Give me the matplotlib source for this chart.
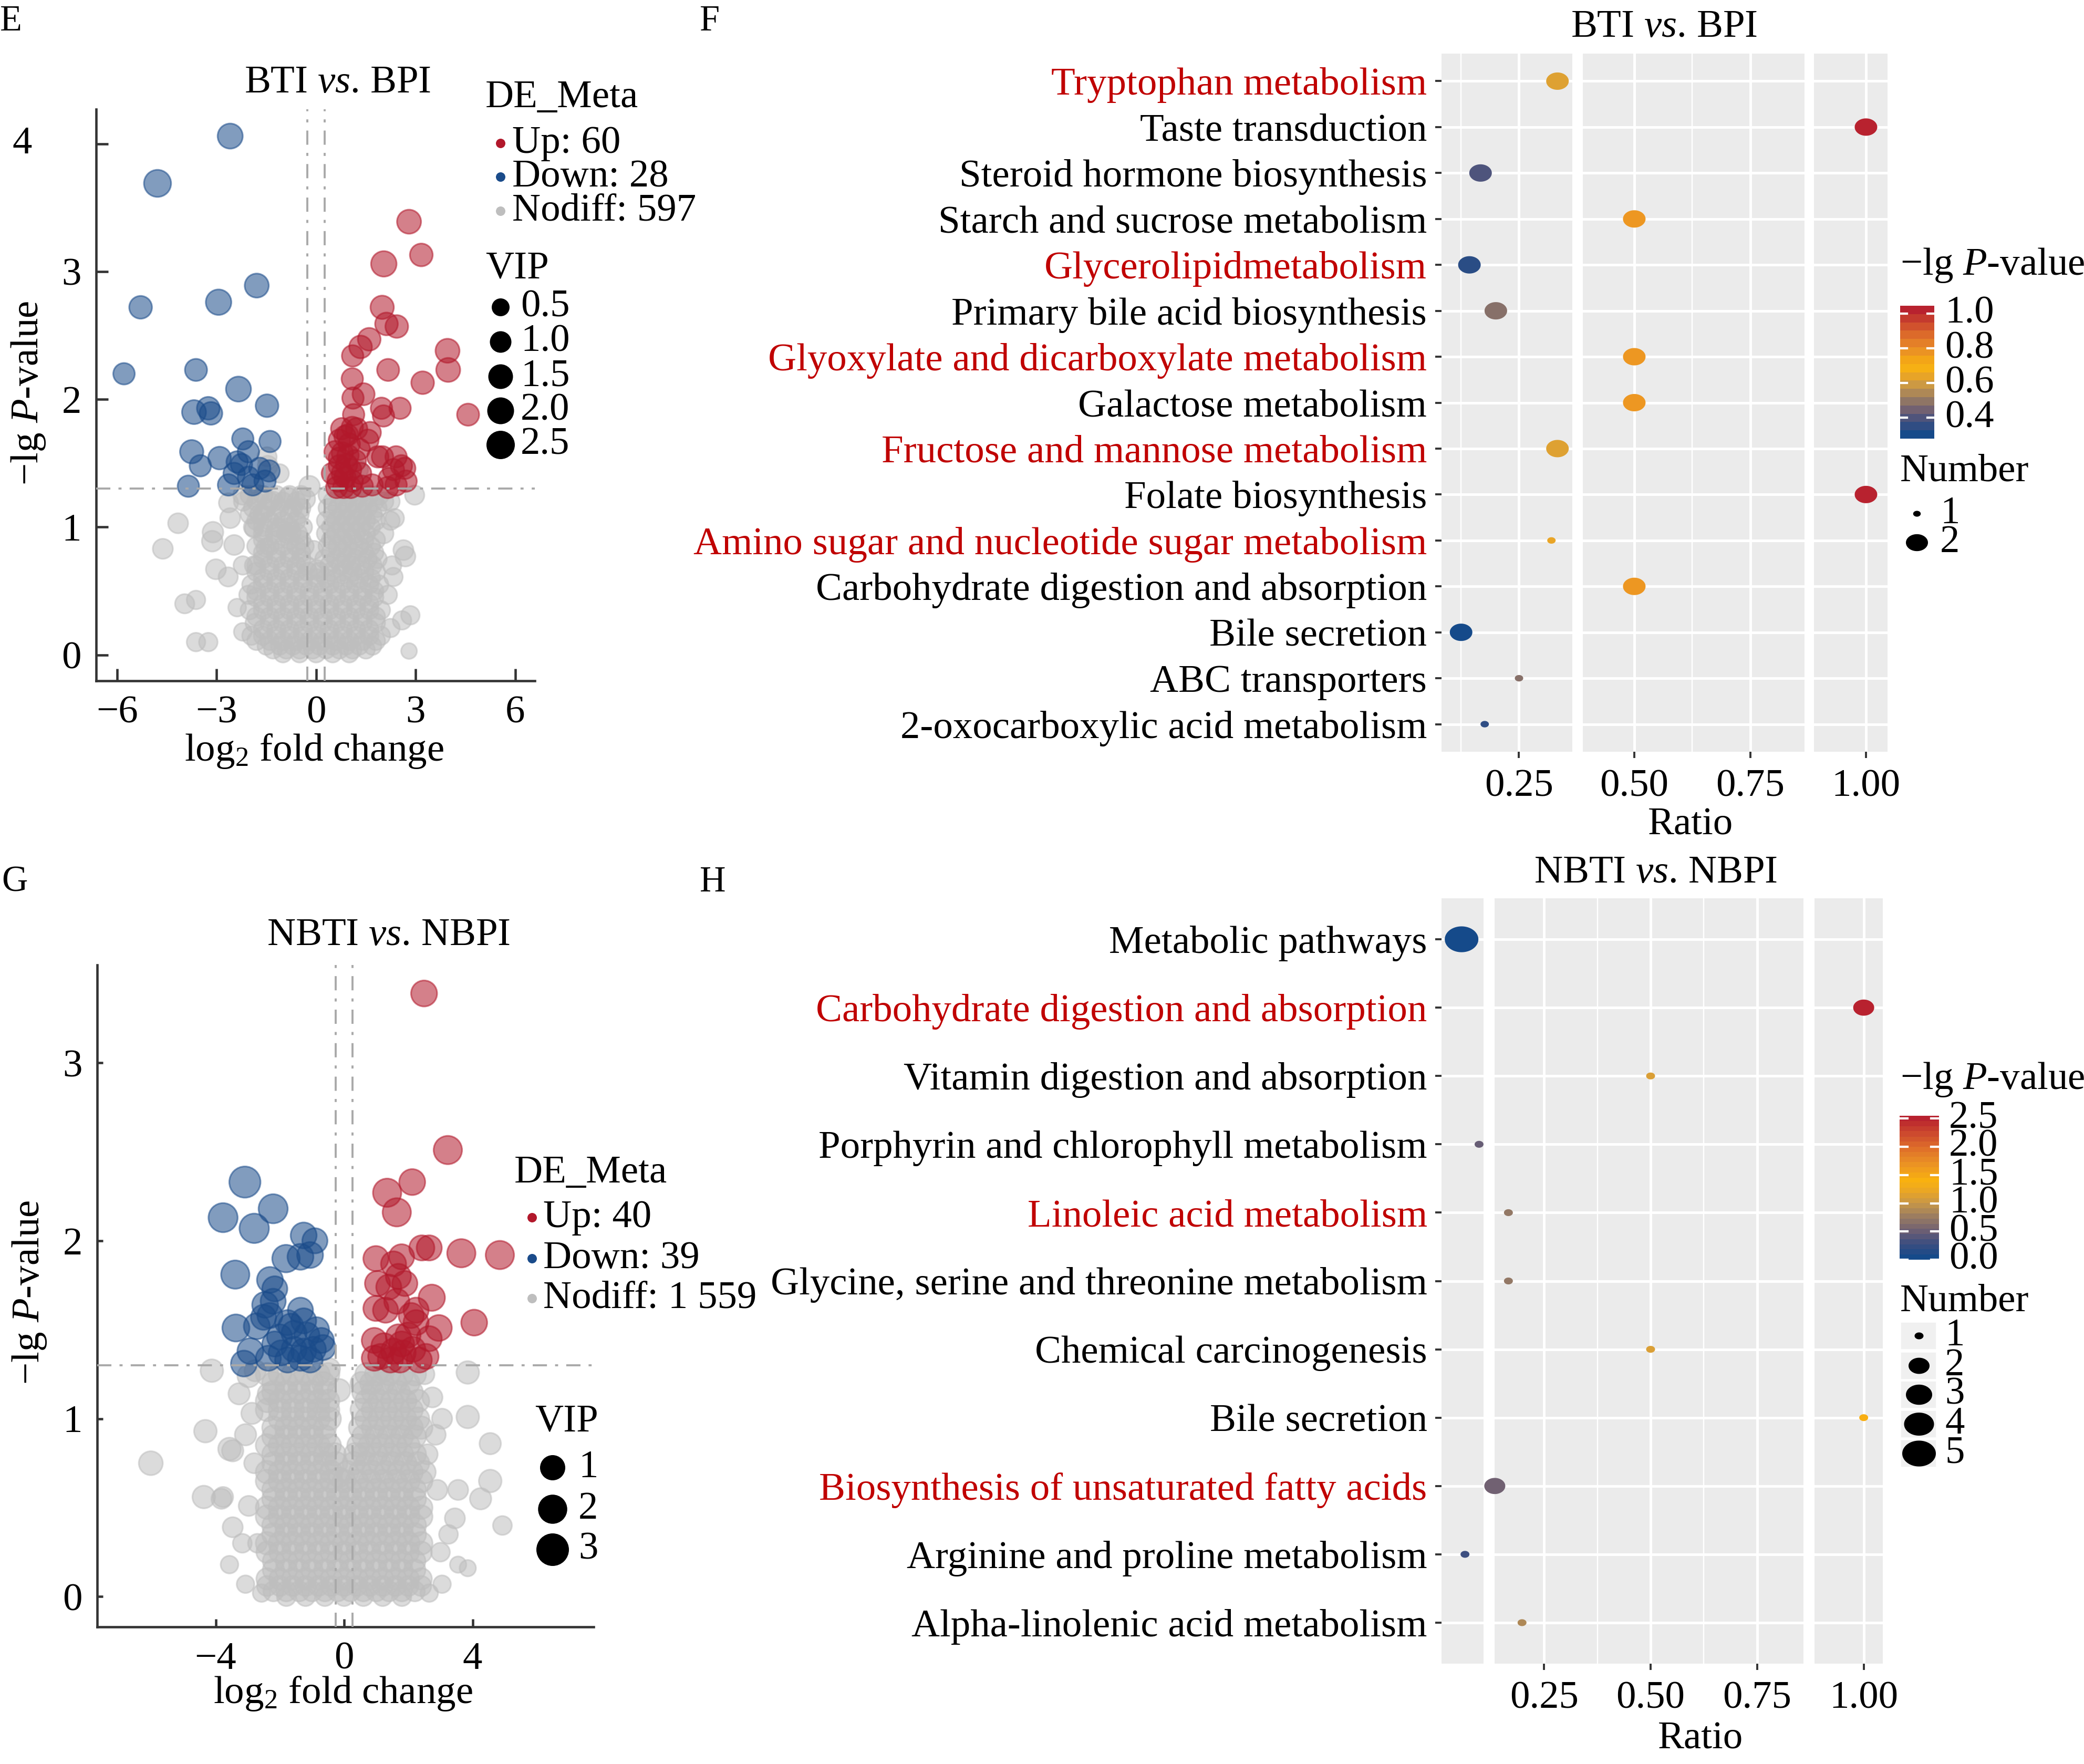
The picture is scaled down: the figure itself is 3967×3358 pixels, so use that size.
import numpy as np
import matplotlib
matplotlib.use("Agg")
import matplotlib.pyplot as plt
from matplotlib.path import Path
from matplotlib.patches import Rectangle
from matplotlib.colors import LinearSegmentedColormap

plt.rcParams["font.family"] = ["Liberation Serif", "DejaVu Serif"]
plt.rcParams["mathtext.fontset"] = "custom"
plt.rcParams["mathtext.rm"] = "Liberation Serif"
plt.rcParams["mathtext.it"] = "Liberation Serif:italic"

W, H = 3967, 3358
DPI = 253
PT = DPI / 72.0
FS = 21.3

RED = "#B2182B"
BLUE = "#1A4B8A"
GRAY = "#BEBEBE"
LABEL_RED = "#C00000"

# ---------------- panel E: BTI vs. BPI volcano (x=log2FC, y=-lgP, vip) ----------------
e_down = [(-2.59, 4.06, 1.6), (-4.78, 3.69, 2.1), (-5.29, 2.72, 1.2), (-2.94, 2.76, 1.7),
          (-1.79, 2.89, 1.4), (-5.79, 2.20, 1.0), (-3.62, 2.23, 1.1), (-2.34, 2.08, 1.6),
          (-3.68, 1.90, 1.4), (-3.25, 1.93, 1.2), (-3.17, 1.89, 1.2), (-1.48, 1.95, 1.2),
          (-3.75, 1.59, 1.3), (-2.91, 1.54, 1.2), (-2.21, 1.69, 1.0), (-2.04, 1.59, 1.0),
          (-1.39, 1.67, 1.0), (-3.49, 1.48, 1.0), (-3.85, 1.32, 1.0), (-2.64, 1.33, 1.0),
          (-2.47, 1.42, 1.0), (-2.25, 1.49, 1.0), (-2.04, 1.39, 1.0), (-1.70, 1.46, 1.0),
          (-1.54, 1.36, 1.0), (-1.42, 1.44, 1.0), (-1.91, 1.33, 1.0), (-2.38, 1.51, 1.0)]
e_up = [(2.80, 3.39, 1.4), (3.17, 3.13, 1.2), (2.04, 3.06, 1.7), (1.99, 2.72, 1.3), (2.12, 2.59, 1.2),
        (2.43, 2.57, 1.2), (1.60, 2.47, 1.2), (1.34, 2.41, 1.2), (1.10, 2.34, 1.0), (3.96, 2.38, 1.4),
        (3.98, 2.23, 1.4), (2.17, 2.23, 1.1), (3.21, 2.13, 1.2), (1.09, 2.16, 1.0), (1.43, 2.04, 1.1),
        (1.11, 2.01, 1.0), (1.97, 1.93, 1.0), (2.53, 1.93, 1.0), (4.58, 1.88, 1.1), (1.13, 1.88, 1.0),
        (2.03, 1.87, 1.0), (1.09, 1.78, 1.0), (0.77, 1.77, 1.0), (0.87, 1.71, 1.0), (1.63, 1.74, 1.0),
        (0.79, 1.58, 1.0), (0.70, 1.54, 1.0), (1.00, 1.65, 1.0), (1.30, 1.61, 1.0), (2.00, 1.55, 1.0),
        (2.41, 1.55, 1.0), (2.57, 1.48, 1.0), (1.86, 1.55, 1.0), (0.49, 1.42, 1.0), (0.66, 1.36, 1.0),
        (0.87, 1.39, 1.0), (1.09, 1.36, 1.0), (0.70, 1.48, 1.0), (0.92, 1.49, 1.0), (1.69, 1.33, 1.0),
        (2.20, 1.38, 1.0), (2.41, 1.33, 1.0), (2.33, 1.45, 1.0), (0.57, 1.59, 1.0), (0.83, 1.31, 1.0),
        (1.04, 1.45, 1.0), (1.34, 1.42, 1.0), (0.79, 1.42, 1.0), (0.96, 1.56, 1.0), (0.70, 1.68, 1.0),
        (1.22, 1.77, 1.0), (1.18, 1.52, 1.0), (0.62, 1.31, 1.0), (1.04, 1.31, 1.0), (1.39, 1.32, 1.0),
        (2.16, 1.31, 1.0), (2.71, 1.36, 1.0), (2.67, 1.46, 1.0), (1.56, 1.68, 1.0), (0.95, 1.72, 1.0)]
e_gray_outer = [(-4.16, 1.03, 0.8), (-4.62, 0.83, 0.8), (-3.11, 0.96, 0.9), (-3.13, 0.89, 0.9),
                (-2.59, 1.07, 0.8), (-2.47, 0.86, 0.8), (-3.02, 0.67, 0.8), (-2.65, 0.61, 0.7),
                (-3.96, 0.40, 0.7), (-3.62, 0.43, 0.6), (-3.62, 0.10, 0.6), (-3.25, 0.10, 0.6),
                (2.80, 0.03, 0.3), (2.63, 0.82, 0.8), (2.69, 0.77, 0.8), (2.03, 0.95, 0.8),
                (2.84, 0.31, 0.6), (2.97, 1.25, 0.7), (2.37, 1.07, 0.6), (2.24, 1.20, 0.6),
                (-1.10, 1.42, 0.6), (-1.48, 1.55, 0.7), (-1.46, 1.48, 0.8), (1.30, 1.45, 0.5),
                (-0.20, 1.32, 0.9), (-0.33, 1.22, 0.8), (-0.84, 1.23, 0.8), (-1.31, 1.20, 0.8),
                (-1.74, 1.25, 0.8), (-2.21, 1.25, 0.7), (-2.64, 1.19, 0.7), (-1.70, 1.10, 0.7),
                (-1.87, 0.99, 0.6), (1.90, 1.25, 0.7), (2.24, 1.05, 0.6), (2.29, 0.70, 0.6),
                (2.33, 0.61, 0.6), (2.16, 0.47, 0.6), (2.24, 0.21, 0.6), (2.59, 0.27, 0.6),
                (-2.21, 0.18, 0.5), (-2.38, 0.37, 0.5), (-2.04, 0.47, 0.6), (-1.87, 0.70, 0.6),
                (-2.21, 0.70, 0.6), (-1.52, 0.84, 0.6), (-1.10, 0.99, 0.7), (-0.75, 0.96, 0.7),
                (-0.07, 0.82, 0.6), (0.02, 0.67, 0.6)]
# dense part of the grey cloud, read row by row: (y, vip, x values)
e_gray_core = [(1.25, 0.6, [-2.0, -1.6, -1.2, -0.8, -0.45, 0.35, 0.7, 1.0, 1.3, 1.6]),
               (1.20, 0.6, [-2.2, -1.8, -1.4, -1.0, -0.6, 0.5, 0.85, 1.15, 1.45, 1.75, 2.05]),
               (1.15, 0.6, [-1.9, -1.5, -1.1, -0.7, -0.45, 0.35, 0.65, 0.95, 1.25, 1.55, 1.85]),
               (1.10, 0.6, [-2.0, -1.6, -1.2, -0.8, -0.5, 0.5, 0.8, 1.1, 1.4, 1.7]),
               (1.05, 0.6, [-1.8, -1.4, -1.0, -0.6, 0.3, 0.6, 0.9, 1.2, 1.5, 1.8]),
               (1.00, 0.6, [-1.9, -1.6, -1.2, -0.8, -0.4, 0.45, 0.75, 1.05, 1.35, 1.65]),
               (0.95, 0.6, [-1.6, -1.25, -0.9, -0.55, 0.3, 0.6, 0.9, 1.2, 1.5]),
               (0.90, 0.6, [-1.6, -1.2, -0.8, -0.45, 0.45, 0.8, 1.1, 1.45, 1.8]),
               (0.85, 0.6, [-1.8, -1.4, -1.0, -0.6, -0.35, 0.35, 0.65, 0.95, 1.3, 1.65]),
               (0.80, 0.6, [-1.6, -1.2, -0.8, -0.45, 0.45, 0.8, 1.1, 1.45, 1.75]),
               (0.75, 0.6, [-1.6, -1.2, -0.8, -0.45, 0.25, 0.6, 0.9, 1.2, 1.55, 1.85]),
               (0.70, 0.6, [-1.8, -1.4, -1.0, -0.6, -0.3, 0.4, 0.75, 1.05, 1.35, 1.7]),
               (0.65, 0.6, [-1.8, -1.4, -1.0, -0.6, -0.25, 0.1, 0.45, 0.8, 1.1, 1.45, 1.8]),
               (0.60, 0.6, [-1.6, -1.2, -0.8, -0.4, 0.0, 0.3, 0.6, 1.0, 1.3, 1.65]),
               (0.55, 0.6, [-1.95, -1.6, -1.2, -0.8, -0.4, 0.0, 0.4, 0.8, 1.2, 1.6, 1.9]),
               (0.50, 0.6, [-1.8, -1.4, -1.0, -0.6, -0.2, 0.2, 0.6, 1.0, 1.4, 1.75]),
               (0.45, 0.6, [-1.8, -1.4, -1.0, -0.6, -0.2, 0.2, 0.6, 1.0, 1.4, 1.75]),
               (0.40, 0.6, [-1.6, -1.2, -0.8, -0.4, 0.0, 0.4, 0.8, 1.2, 1.6]),
               (0.35, 0.6, [-2.0, -1.6, -1.2, -0.8, -0.4, 0.0, 0.4, 0.8, 1.2, 1.6, 1.95]),
               (0.30, 0.6, [-1.8, -1.4, -1.0, -0.6, -0.2, 0.2, 0.6, 1.0, 1.4, 1.8]),
               (0.25, 0.6, [-1.85, -1.4, -1.0, -0.6, -0.2, 0.2, 0.6, 1.0, 1.4, 1.8]),
               (0.20, 0.6, [-1.6, -1.2, -0.8, -0.4, 0.0, 0.4, 0.8, 1.2, 1.6]),
               (0.15, 0.6, [-1.95, -1.6, -1.2, -0.8, -0.4, 0.0, 0.4, 0.8, 1.2, 1.6, 1.95]),
               (0.11, 0.6, [-1.8, -1.4, -1.0, -0.6, -0.2, 0.2, 0.6, 1.0, 1.4, 1.8]),
               (0.07, 0.5, [-1.5, -1.1, -0.7, -0.3, 0.1, 0.5, 0.9, 1.3, 1.7]),
               (0.04, 0.5, [-1.3, -0.9, -0.5, -0.1, 0.3, 0.7, 1.1, 1.5]),
               (0.01, 0.5, [-1.0, -0.5, 0.0, 0.5, 1.0])]
e_vip_keys = [0.5, 1.0, 1.5, 2.0, 2.5]

# ---------------- panel G: NBTI vs. NBPI volcano ----------------
g_down = [(-3.09, 2.33, 2.6), (-3.77, 2.13, 2.0), (-2.21, 2.18, 2.0), (-2.80, 2.07, 2.1),
          (-1.26, 2.03, 1.2), (-0.91, 2.00, 1.0), (-1.81, 1.90, 1.6), (-1.36, 1.91, 1.2),
          (-1.06, 1.92, 1.2), (-3.39, 1.81, 1.8), (-2.31, 1.78, 1.2), (-2.16, 1.73, 1.0),
          (-2.46, 1.64, 1.2), (-2.21, 1.66, 1.0), (-3.37, 1.51, 1.5), (-2.72, 1.52, 1.2),
          (-2.51, 1.57, 1.0), (-1.36, 1.61, 1.0), (-1.26, 1.55, 1.0), (-1.66, 1.52, 1.0),
          (-0.86, 1.50, 1.0), (-0.71, 1.44, 1.0), (-2.92, 1.38, 1.2), (-2.16, 1.42, 1.0),
          (-1.96, 1.37, 1.0), (-1.56, 1.39, 1.0), (-1.26, 1.38, 1.0), (-0.96, 1.39, 1.0),
          (-0.66, 1.40, 1.0), (-3.12, 1.31, 1.2), (-2.36, 1.34, 1.0), (-1.76, 1.33, 1.0),
          (-1.36, 1.34, 1.0), (-1.06, 1.33, 1.0), (-1.76, 1.54, 1.0), (-1.56, 1.48, 1.0),
          (-2.31, 1.58, 1.0), (-1.16, 1.47, 1.0), (-2.01, 1.46, 1.0)]
g_up = [(2.49, 3.39, 1.2), (3.23, 2.51, 1.8), (2.12, 2.33, 1.2), (1.34, 2.27, 1.8), (1.64, 2.16, 1.8),
        (2.42, 1.96, 1.0), (2.65, 1.96, 1.0), (3.65, 1.93, 1.8), (4.85, 1.92, 1.8), (0.99, 1.90, 1.0),
        (1.79, 1.91, 1.0), (1.54, 1.87, 1.0), (1.04, 1.76, 1.0), (1.69, 1.80, 1.0), (1.89, 1.76, 1.0),
        (1.39, 1.74, 1.0), (0.99, 1.62, 1.0), (1.29, 1.61, 1.0), (2.09, 1.58, 1.0), (1.64, 1.66, 1.0),
        (2.73, 1.68, 1.3), (4.05, 1.54, 1.2), (2.95, 1.51, 1.2), (2.65, 1.45, 1.0), (0.94, 1.44, 1.0),
        (1.24, 1.41, 1.0), (1.79, 1.42, 1.0), (1.54, 1.38, 1.0), (1.84, 1.37, 1.0), (1.14, 1.35, 1.0),
        (0.94, 1.34, 1.0), (2.14, 1.39, 1.0), (2.55, 1.35, 1.0), (1.44, 1.33, 1.0), (1.74, 1.33, 1.0),
        (2.34, 1.33, 1.0), (2.24, 1.54, 1.0), (2.24, 1.61, 1.0), (1.69, 1.46, 1.0), (1.99, 1.47, 1.0)]
g_gray_outer = [(-6.02, 0.75, 0.9), (-4.32, 0.93, 0.8), (-4.12, 1.27, 0.8), (-3.57, 0.83, 0.8),
                (-3.47, 0.82, 0.7), (-4.37, 0.56, 0.8), (-3.82, 0.55, 0.6), (-3.77, 0.56, 0.6),
                (-3.47, 0.39, 0.6), (-2.97, 0.51, 0.6), (-3.27, 1.14, 0.7), (-2.97, 1.24, 0.8),
                (-2.77, 1.27, 0.7), (-2.36, 1.14, 0.7), (-2.87, 1.03, 0.7), (-3.07, 0.91, 0.7),
                (3.85, 1.26, 0.8), (3.85, 1.01, 0.8), (4.55, 0.86, 0.7), (4.55, 0.65, 0.8),
                (4.25, 0.55, 0.7), (4.93, 0.40, 0.5), (3.55, 0.60, 0.6), (3.45, 0.44, 0.6),
                (3.25, 0.35, 0.5), (3.85, 0.16, 0.3), (3.55, 0.18, 0.3), (3.05, 1.00, 0.6),
                (2.85, 0.91, 0.6), (2.75, 1.12, 0.6), (-0.16, 1.16, 0.8), (-0.16, 0.67, 0.6),
                (-0.46, 1.28, 0.7), (1.24, 1.27, 0.7), (-3.17, 0.30, 0.5), (-3.07, 0.07, 0.4),
                (-2.57, 0.02, 0.4), (3.05, 0.07, 0.4), (2.65, 0.02, 0.4), (-3.57, 0.18, 0.4),
                (2.90, 0.60, 0.6), (3.00, 0.25, 0.5), (-2.70, 0.30, 0.5), (-2.80, 0.75, 0.6),
                (2.60, 0.80, 0.6), (2.50, 1.25, 0.6)]
g_gray_core = [(1.25, 0.8, [-2.4, -2.0, -1.6, -1.2, -0.8, -0.5, 0.7, 1.0, 1.4, 1.8, 2.2]),
               (1.20, 0.8, [-2.2, -1.8, -1.4, -1.0, -0.65, 0.55, 0.85, 1.2, 1.6, 2.0]),
               (1.15, 0.8, [-2.2, -1.8, -1.4, -1.0, -0.6, 0.6, 0.9, 1.3, 1.7, 2.1]),
               (1.10, 0.8, [-2.4, -2.0, -1.6, -1.2, -0.8, -0.5, 0.7, 1.1, 1.5, 1.9, 2.3]),
               (1.05, 0.8, [-2.4, -2.0, -1.6, -1.2, -0.8, -0.5, 0.55, 0.9, 1.3, 1.7, 2.1]),
               (1.00, 0.8, [-2.0, -1.6, -1.2, -0.8, -0.45, 0.7, 1.1, 1.5, 1.9, 2.3]),
               (0.95, 0.8, [-2.2, -1.8, -1.4, -1.0, -0.6, 0.5, 0.9, 1.3, 1.7, 2.1, 2.4]),
               (0.90, 0.8, [-2.2, -1.8, -1.4, -1.0, -0.6, 0.6, 1.0, 1.4, 1.8, 2.2]),
               (0.85, 0.8, [-2.4, -2.0, -1.6, -1.2, -0.8, -0.45, 0.45, 0.8, 1.2, 1.6, 2.0]),
               (0.80, 0.8, [-2.2, -1.8, -1.4, -1.0, -0.6, -0.3, 0.35, 0.6, 1.0, 1.4, 1.8, 2.2]),
               (0.75, 0.8, [-2.2, -1.8, -1.4, -1.0, -0.6, -0.25, 0.3, 0.7, 1.1, 1.5, 1.9, 2.3]),
               (0.70, 0.8, [-2.4, -2.0, -1.6, -1.2, -0.8, -0.4, 0.1, 0.5, 0.9, 1.3, 1.7, 2.1, 2.5]),
               (0.65, 0.8, [-2.4, -2.0, -1.6, -1.2, -0.8, -0.4, 0.0, 0.4, 0.8, 1.2, 1.6, 2.0, 2.4]),
               (0.60, 0.8, [-2.2, -1.8, -1.4, -1.0, -0.6, -0.2, 0.2, 0.6, 1.0, 1.4, 1.8, 2.2]),
               (0.55, 0.8, [-2.2, -1.8, -1.4, -1.0, -0.6, -0.2, 0.2, 0.6, 1.0, 1.4, 1.8, 2.2]),
               (0.50, 0.8, [-2.4, -2.0, -1.6, -1.2, -0.8, -0.4, 0.0, 0.4, 0.8, 1.2, 1.6, 2.0, 2.4]),
               (0.45, 0.8, [-2.4, -2.0, -1.6, -1.2, -0.8, -0.4, 0.0, 0.4, 0.8, 1.2, 1.6, 2.0, 2.4]),
               (0.40, 0.8, [-2.2, -1.8, -1.4, -1.0, -0.6, -0.2, 0.2, 0.6, 1.0, 1.4, 1.8, 2.2]),
               (0.35, 0.8, [-2.2, -1.8, -1.4, -1.0, -0.6, -0.2, 0.2, 0.6, 1.0, 1.4, 1.8, 2.2]),
               (0.30, 0.8, [-2.4, -2.0, -1.6, -1.2, -0.8, -0.4, 0.0, 0.4, 0.8, 1.2, 1.6, 2.0, 2.4]),
               (0.25, 0.7, [-2.4, -2.0, -1.6, -1.2, -0.8, -0.4, 0.0, 0.4, 0.8, 1.2, 1.6, 2.0, 2.4]),
               (0.20, 0.7, [-2.2, -1.8, -1.4, -1.0, -0.6, -0.2, 0.2, 0.6, 1.0, 1.4, 1.8, 2.2]),
               (0.15, 0.7, [-2.2, -1.8, -1.4, -1.0, -0.6, -0.2, 0.2, 0.6, 1.0, 1.4, 1.8, 2.2]),
               (0.10, 0.7, [-2.4, -2.0, -1.6, -1.2, -0.8, -0.4, 0.0, 0.4, 0.8, 1.2, 1.6, 2.0, 2.4]),
               (0.06, 0.6, [-2.4, -2.0, -1.6, -1.2, -0.8, -0.4, 0.0, 0.4, 0.8, 1.2, 1.6, 2.0, 2.4]),
               (0.03, 0.6, [-2.2, -1.8, -1.4, -1.0, -0.6, -0.2, 0.2, 0.6, 1.0, 1.4, 1.8, 2.2]),
               (0.00, 0.5, [-1.8, -1.2, -0.6, 0.0, 0.6, 1.2, 1.8])]
g_vip_keys = [1, 2, 3]

# ---------------- panel F: KEGG dot plot, BTI vs. BPI ----------------
f_paths = ["Tryptophan metabolism", "Taste transduction", "Steroid hormone biosynthesis",
           "Starch and sucrose metabolism", "Glycerolipidmetabolism", "Primary bile acid biosynthesis",
           "Glyoxylate and dicarboxylate metabolism", "Galactose metabolism",
           "Fructose and mannose metabolism", "Folate biosynthesis",
           "Amino sugar and nucleotide sugar metabolism", "Carbohydrate digestion and absorption",
           "Bile secretion", "ABC transporters", "2-oxocarboxylic acid metabolism"]
f_highlight = [True, False, False, False, True, False, True, False, True, False, True, False, False, False, False]
f_ratio = [0.333, 1.0, 0.167, 0.5, 0.143, 0.2, 0.5, 0.5, 0.333, 1.0, 0.32, 0.5, 0.125, 0.25, 0.176]
f_number = [2, 2, 2, 2, 2, 2, 2, 2, 2, 2, 1, 2, 2, 1, 1]
f_lgp = [0.62, 1.046, 0.38, 0.78, 0.32, 0.47, 0.78, 0.78, 0.62, 1.046, 0.64, 0.78, 0.28, 0.47, 0.33]

# ---------------- panel H: KEGG dot plot, NBTI vs. NBPI ----------------
h_paths = ["Metabolic pathways", "Carbohydrate digestion and absorption", "Vitamin digestion and absorption",
           "Porphyrin and chlorophyll metabolism", "Linoleic acid metabolism",
           "Glycine, serine and threonine metabolism", "Chemical carcinogenesis", "Bile secretion",
           "Biosynthesis of unsaturated fatty acids", "Arginine and proline metabolism",
           "Alpha-linolenic acid metabolism"]
h_highlight = [False, True, False, False, True, False, False, False, True, False, False]
h_ratio = [0.058, 1.0, 0.5, 0.099, 0.166, 0.166, 0.5, 1.0, 0.134, 0.066, 0.198]
h_number = [5, 2, 1, 1, 1, 1, 1, 1, 2, 1, 1]
h_lgp = [0.0, 2.55, 1.1, 0.45, 0.7, 0.7, 1.1, 1.45, 0.5, 0.25, 0.85]

CMAP = LinearSegmentedColormap.from_list("lgp", [
    (0.00, "#154A8A"), (0.10, "#3E4F80"), (0.19, "#6E5F73"), (0.29, "#9A7C62"),
    (0.39, "#C99847"), (0.47, "#E9A527"), (0.55, "#FAB30F"), (0.68, "#EA9026"),
    (0.78, "#E0712A"), (0.88, "#CF4E2E"), (1.00, "#B8222F")])

fig = plt.figure(figsize=(W / DPI, H / DPI), dpi=DPI)


def rect(l, t, r, b):
    return [l / W, 1 - b / H, (r - l) / W, (b - t) / H]


def area(d_px):
    return (d_px / PT) ** 2


# overlay in pixel coordinates for free text and legends
ov = fig.add_axes([0, 0, 1, 1])
ov.set_xlim(0, W)
ov.set_ylim(H, 0)
ov.axis("off")
ov.set_zorder(10)


def txt(x, y, s, ha="left", va="center", size=FS, **kw):
    ov.text(x, y, s, ha=ha, va=va, fontsize=size, **kw)


def volcano(box, xlim, ylim, xticks, yticks, gray_outer, gray_core, down, up,
            vip_keys, vip_px, tick_len):
    ax = fig.add_axes(rect(*box))
    ax.patch.set_alpha(0)
    gray = list(gray_outer) + [(x, y, v) for (y, v, xs) in gray_core for x in xs]
    for pts, col in [(gray, GRAY), (down, BLUE), (up, RED)]:
        arr = np.array(pts)
        d = np.interp(arr[:, 2], vip_keys, vip_px)
        ax.scatter(arr[:, 0], arr[:, 1], s=area(d), color=col, alpha=0.55,
                   edgecolors=col, linewidths=0.9, zorder=2)
    ls = (0, (7, 4, 1.5, 4))
    for xv in (-0.263, 0.263):
        ax.axvline(xv, color="#A9A9A9", lw=1.1, ls=ls, zorder=3)
    ax.axhline(1.301, color="#A9A9A9", lw=1.1, ls=ls, zorder=3)
    ax.set_xlim(*xlim)
    ax.set_ylim(*ylim)
    ax.set_xticks(xticks)
    ax.set_yticks(yticks)
    for sp in ("top", "right"):
        ax.spines[sp].set_visible(False)
    for sp in ("left", "bottom"):
        ax.spines[sp].set_color("#333333")
        ax.spines[sp].set_linewidth(1.3)
    ax.tick_params(direction="in", length=tick_len, width=1.3, color="#333333",
                   labelsize=FS, pad=8)
    return ax


# ----- E -----
axE = volcano((183, 208, 1018, 1296), (-6.63, 6.59), (-0.203, 4.27), [-6, -3, 0, 3, 6], [0, 1, 2, 3, 4],
              e_gray_outer, e_gray_core, e_down, e_up,
              [0.0] + e_vip_keys, [24, 34, 41, 47, 51, 54], 6.5)
# the "4" label sits further left in the original
axE.set_yticklabels(["0", "1", "2", "3", ""])
txt(61, 274, "4", ha="right")

txt(0, 41, "E", size=19.5)
txt(643, 158, r"BTI $\mathit{vs}$. BPI", ha="center")
txt(598, 1430, r"log$_2$ fold change", ha="center")
txt(54, 748, "\u2212lg $\\mathit{P}$-value", ha="center", rotation=90)
txt(924, 186, "DE_Meta")
for yy, col, lab in [(273, RED, "Up: 60"), (337, BLUE, "Down: 28"), (402, GRAY, "Nodiff: 597")]:
    ov.scatter([953], [yy], s=area(18), color=col, edgecolors="none")
    txt(975, yy, lab)
txt(924, 512, "VIP")
for yy, v, d in zip([585, 651, 717, 782, 847], e_vip_keys, [34, 41, 47, 51, 54]):
    ov.scatter([953], [yy], s=area(d), color="black", edgecolors="none")
    txt(991, yy, f"{v:.1f}")

# ----- G -----
axG = volcano((185, 1837, 1130, 3097), (-7.69, 7.77), (-0.17, 3.55), [-4, 0, 4], [0, 1, 2, 3],
              g_gray_outer, g_gray_core, g_down, g_up,
              [0.0] + g_vip_keys, [24, 48, 55.5, 62], 3.1)
axG.tick_params(axis="x", length=4.3)
txt(28, 1680, "G", ha="center", size=19.5)
txt(740, 1781, r"NBTI $\mathit{vs}$. NBPI", ha="center")
txt(653, 3224, r"log$_2$ fold change", ha="center")
txt(56, 2460, "\u2212lg $\\mathit{P}$-value", ha="center", rotation=90)
txt(979, 2233, "DE_Meta")
for yy, col, lab in [(2318, RED, "Up: 40"), (2396, BLUE, "Down: 39"), (2472, GRAY, "Nodiff: 1 559")]:
    ov.scatter([1013], [yy], s=area(18), color=col, edgecolors="none")
    txt(1034, yy, lab)
txt(1018, 2707, "VIP")
for yy, v, d in zip([2794, 2873, 2950], g_vip_keys, [48, 55.5, 62]):
    ov.scatter([1052], [yy], s=area(d), color="black", edgecolors="none")
    txt(1101, yy, f"{v}")

# ellipse marker (the dot plots were stretched horizontally)
theta = np.linspace(0, 2 * np.pi, 73)
ELL = Path(np.column_stack([1.3 * np.cos(theta), np.sin(theta)]), closed=True)


def dotplot(panels, top, bottom, paths, highlight, ratio, number, lgp, vmin, vmax,
            num_keys, num_px, majors, minors):
    n = len(paths)
    ypos = np.arange(n, 0, -1)
    ratio = np.array(ratio)
    dpx = np.interp(number, num_keys, num_px)
    cols = CMAP((np.array(lgp) - vmin) / (vmax - vmin))
    axes = []
    for i, (l, r, lo, hi) in enumerate(panels):
        ax = fig.add_axes(rect(l, top, r, bottom))
        ax.set_facecolor("#EBEBEB")
        ax.set_xlim(lo, hi)
        ax.set_ylim(0.4, n + 0.6)
        for sp in ax.spines.values():
            sp.set_visible(False)
        for m in minors:
            if lo < m < hi:
                ax.axvline(m, color="white", lw=0.7, zorder=1)
        mj = [m for m in majors if lo < m < hi]
        for m in mj:
            ax.axvline(m, color="white", lw=1.4, zorder=1)
        for yv in ypos:
            ax.axhline(yv, color="white", lw=1.4, zorder=1)
        sel = (ratio >= lo) & (ratio <= hi)
        ax.scatter(ratio[sel], ypos[sel], s=area(dpx[sel]), c=cols[sel], marker=ELL,
                   edgecolors="none", zorder=3, clip_on=False)
        ax.set_xticks(mj)
        ax.set_xticklabels([f"{m:.2f}" for m in mj])
        ax.tick_params(axis="x", direction="out", length=3.4, width=1.1, color="#333333",
                       labelsize=FS, pad=6)
        if i == 0:
            ax.set_yticks(ypos)
            ax.set_yticklabels(paths)
            for lab, hl in zip(ax.get_yticklabels(), highlight):
                lab.set_color(LABEL_RED if hl else "black")
            ax.tick_params(axis="y", direction="out", length=3.4, width=1.1, color="#333333",
                           labelsize=FS, pad=4.5)
        else:
            ax.set_yticks([])
        axes.append(ax)
    return axes


def colorbar(box, vmin, vmax, ticks, nbands, label_x):
    l, t, r, b = box
    ax = fig.add_axes(rect(l, t, r, b))
    grad = np.linspace(vmin, vmax, 400).reshape(-1, 1)
    ax.imshow(grad, cmap=CMAP.resampled(nbands), vmin=vmin, vmax=vmax, origin="lower",
              extent=[0, 1, vmin, vmax], aspect="auto", interpolation="nearest")
    for tv in ticks:
        ax.plot([0, 0.2], [tv, tv], color="white", lw=1.2)
        ax.plot([0.8, 1], [tv, tv], color="white", lw=1.2)
    ax.set_xlim(0, 1)
    ax.set_ylim(vmin, vmax)
    ax.axis("off")
    for tv in ticks:
        yy = b - (tv - vmin) / (vmax - vmin) * (b - t)
        txt(label_x, yy, f"{tv:.1f}")


# ----- F -----
dotplot([(2744, 2992.5, 0.0828, 0.3645), (3012.7, 3435.3, 0.3887, 0.8676), (3453, 3593, 0.8879, 1.0465)],
        102, 1431, f_paths, f_highlight, f_ratio, f_number, f_lgp, 0.28, 1.046,
        [1, 2], [16, 43], [0.25, 0.5, 0.75, 1.0], [0.125, 0.375, 0.625, 0.875])
txt(1350, 41, "F", ha="center", size=19.5)
txt(3168, 52, r"BTI $\mathit{vs}$. BPI", ha="center")
txt(3218, 1571, "Ratio", ha="center")
txt(3617, 505, "\u2212lg $\\mathit{P}$-value")
colorbar((3617, 582, 3682, 835), 0.28, 1.046, [0.4, 0.6, 0.8, 1.0], 16, 3702)
txt(3617, 898, "Number")
for yy, nv, d in [(978, 1, 14.5), (1033, 2, 42)]:
    ov.scatter([3649], [yy], s=area(d), color="black", marker=ELL, edgecolors="none")
    txt(3693, yy, str(nv))

# ----- H -----
dotplot([(2744.4, 2823.6, 0.0115, 0.109), (2845.4, 3432.9, 0.134, 0.859), (3453.9, 3584, 0.884, 1.045)],
        1710, 3167, h_paths, h_highlight, h_ratio, h_number, h_lgp, 0.0, 2.55,
        [1, 2, 3, 4, 5], [17, 40, 50, 57, 64], [0.25, 0.5, 0.75, 1.0], [0.125, 0.375, 0.625, 0.875])
txt(1357, 1680, "H", ha="center", size=19.5)
txt(3152, 1662, r"NBTI $\mathit{vs}$. NBPI", ha="center")
txt(3237, 3311, "Ratio", ha="center")
txt(3617, 2055, "\u2212lg $\\mathit{P}$-value")
colorbar((3616, 2124, 3691, 2398), 0.0, 2.55, [0.0, 0.5, 1.0, 1.5, 2.0, 2.5], 28, 3710)
txt(3617, 2478, "Number")
for yy, nv, d in zip([2543, 2600, 2655, 2711, 2767], [1, 2, 3, 4, 5], [17, 40, 50, 57, 64]):
    ov.add_patch(Rectangle((3617, yy - 27), 70, 54, facecolor="#F0F0F0", edgecolor="white", lw=1.0))
    ov.scatter([3653], [yy], s=area(d), color="black", marker=ELL, edgecolors="none", zorder=3)
    txt(3702, yy, str(nv))

fig.savefig("out.png", dpi=DPI)
